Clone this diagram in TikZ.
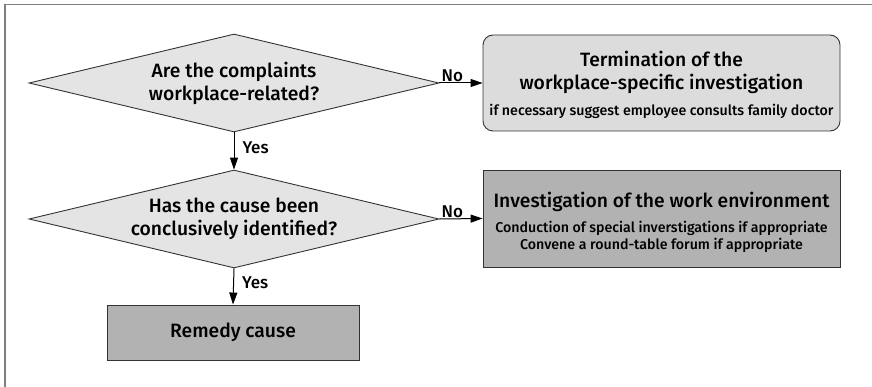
\documentclass[tikz,border=0pt]{standalone}
\usepackage{fontspec}
\setmainfont{Fira Sans Medium}
\usetikzlibrary{shapes.geometric,arrows.meta}
\definecolor{lightfill}{HTML}{E4E4E4}
\definecolor{termfill}{HTML}{DCDCDC}
\definecolor{darkfill}{HTML}{B2B2B2}
\definecolor{edgecol}{HTML}{333333}
\definecolor{framecol}{HTML}{7F7F7F}
\newcommand{\bigtxt}{\fontsize{19.3}{23}\selectfont}
\newcommand{\smalltxt}{\fontsize{14.2}{18}\selectfont}
\tikzset{
  question/.style={diamond, draw=edgecol, fill=lightfill, line width=0.9pt, shape aspect=4.2,
    minimum width=410pt, minimum height=98pt, inner sep=0pt, align=center,
    font=\bigtxt},
  endbox/.style={draw=edgecol, fill=termfill, line width=0.9pt, rounded corners=10pt,
    minimum width=357pt, minimum height=96pt, inner sep=0pt},
  workbox/.style={draw=edgecol, fill=darkfill, line width=0.9pt,
    minimum width=357pt, minimum height=97pt, inner sep=0pt},
  boxtext/.style={align=center, font=\bigtxt, inner sep=0pt},
  remedybox/.style={draw=edgecol, fill=darkfill, line width=0.9pt,
    minimum width=252pt, minimum height=55pt, inner sep=0pt, align=center,
    font=\bigtxt},
  flow/.style={draw=black, line width=1pt, -{Triangle[length=12pt,width=8pt]}},
  lbl/.style={font=\fontsize{17}{19}\selectfont, inner sep=1pt}
}
\begin{document}
\begin{tikzpicture}[x=1pt,y=-1pt]
\useasboundingbox (0,0) rectangle (872,387);
\draw[framecol, line width=1.3pt] (5,388) -- (5,4.5) -- (873,4.5);

\node[question] (q1) at (234,83) {Are the complaints\\workplace-related?};
\node[question] (q2) at (234,219) {Has the cause been\\conclusively identified?};
\node[remedybox] (rem) at (233,332.5) {Remedy cause};

\node[endbox] (term) at (661.5,83) {};
\node[boxtext] (termtext) at ([yshift=-2pt]term.center) {Termination of the\\workplace-specific investigation\\[3pt]\smalltxt if necessary suggest employee consults family doctor};

\node[workbox] (work) at (661.5,218.5) {};
\node[boxtext] (worktext) at ([yshift=-3.5pt]work.center) {Investigation of the work environment\\[2pt]\smalltxt Conduction of special inverstigations if appropriate\\[-6pt]\smalltxt Convene a round-table forum if appropriate};

\draw[flow] (q1.east) -- node[lbl, above, pos=0.3] {No} (term.west);
\draw[flow] (q2.east) -- node[lbl, above, pos=0.3] {No} (work.west);
\draw[flow] (q1.south) -- node[lbl, anchor=west, pos=0.4, xshift=7pt] {Yes} (q2.north);
\draw[flow] (q2.south) -- node[lbl, anchor=west, pos=0.4, xshift=7pt] {Yes} (rem.north);
\end{tikzpicture}
\end{document}
